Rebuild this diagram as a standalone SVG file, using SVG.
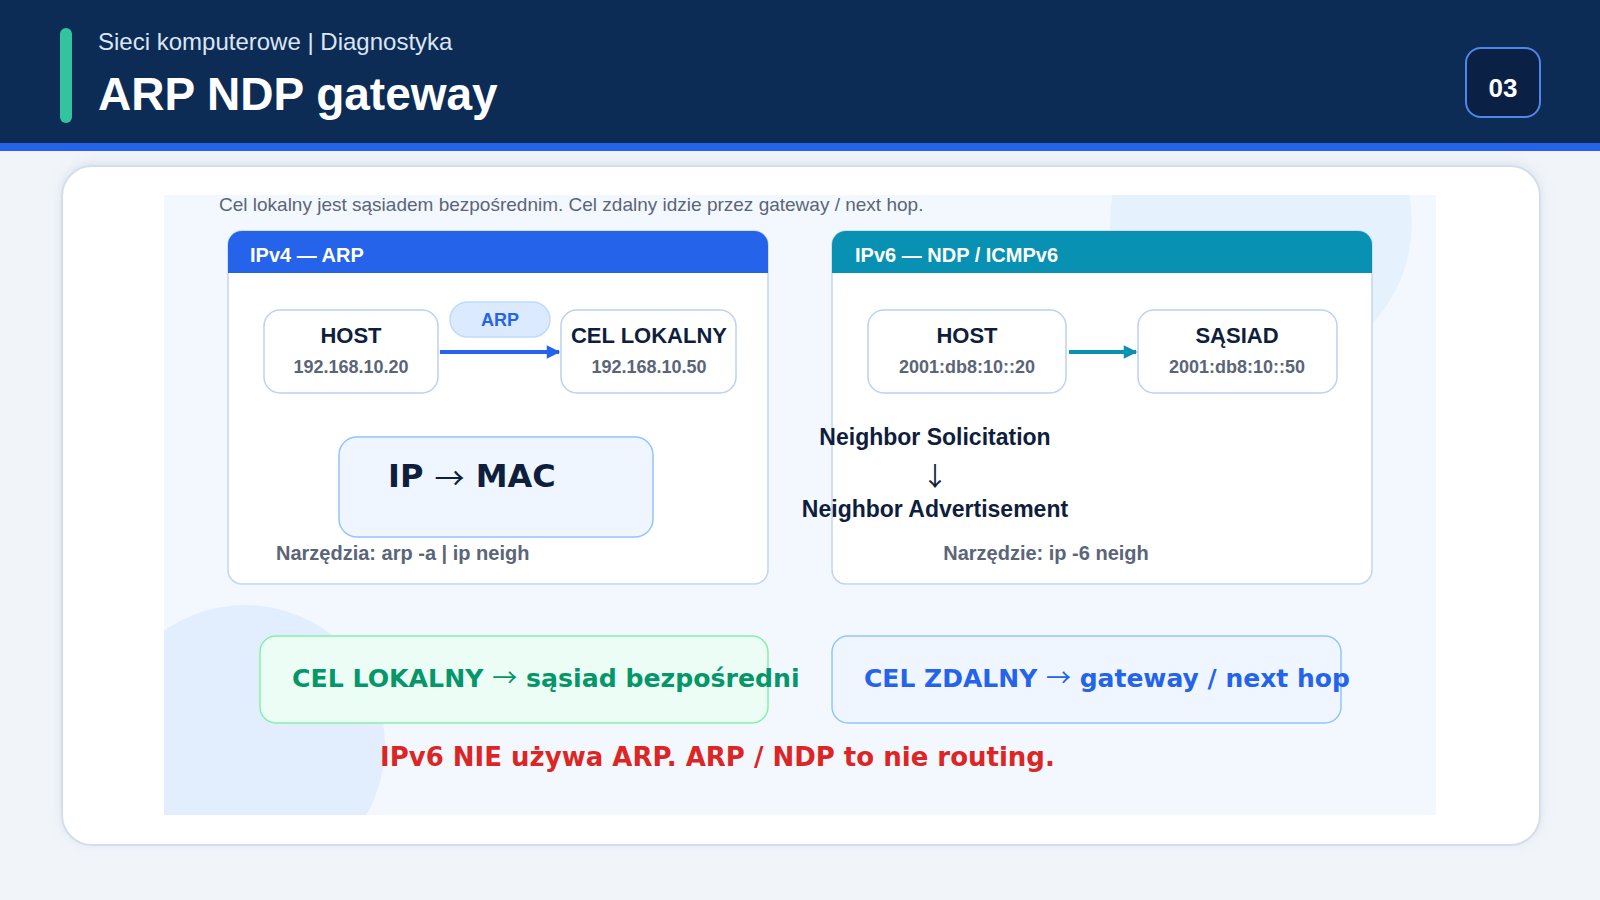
<svg xmlns="http://www.w3.org/2000/svg" width="1600" height="900" viewBox="0 0 1600 900">
  <defs>
    <style>
      .sans { font-family: "Liberation Sans", Arial, sans-serif; }
      .wide { font-family: "DejaVu Sans", Verdana, sans-serif; font-weight: bold; }
      .arr { font-family: "Noto Sans CJK SC", "Noto Sans CJK JP", sans-serif; font-weight: normal; }
      .node { fill: #ffffff; stroke: #bcd2ef; stroke-width: 1.5; }
      .panel { fill: #ffffff; stroke: #c3d5ee; stroke-width: 1.5; }
      .ntitle { font-family: "Liberation Sans", Arial, sans-serif; font-weight: bold; font-size: 22px; fill: #0f1e3c; text-anchor: middle; }
      .nsub { font-family: "Liberation Sans", Arial, sans-serif; font-weight: bold; font-size: 18px; fill: #5b6578; text-anchor: middle; }
      .phead { font-family: "Liberation Sans", Arial, sans-serif; font-weight: bold; font-size: 20px; fill: #ffffff; }
      .tool { font-family: "Liberation Sans", Arial, sans-serif; font-weight: bold; font-size: 20px; fill: #5b6578; }
      .nd { font-family: "Liberation Sans", Arial, sans-serif; font-weight: bold; font-size: 23px; fill: #0f1e3c; text-anchor: middle; }
    </style>
    <marker id="arrBlue" viewBox="0 0 10 10" refX="9" refY="5" markerWidth="4" markerHeight="3.4" markerUnits="strokeWidth" orient="auto">
      <path d="M0,0 L10,5 L0,10 z" fill="#2563eb"/>
    </marker>
    <marker id="arrTeal" viewBox="0 0 10 10" refX="9" refY="5" markerWidth="4" markerHeight="3.4" markerUnits="strokeWidth" orient="auto">
      <path d="M0,0 L10,5 L0,10 z" fill="#0891b2"/>
    </marker>
    <clipPath id="innerClip">
      <rect x="164" y="195" width="1272" height="620"/>
    </clipPath>
    <filter id="shadow" x="-5%" y="-5%" width="110%" height="115%">
      <feDropShadow dx="0" dy="-2" stdDeviation="6" flood-color="#9aa9bd" flood-opacity="0.25"/>
    </filter>
  </defs>

  <!-- background -->
  <rect x="0" y="0" width="1600" height="900" fill="#f1f5fa"/>

  <!-- header -->
  <g id="header">
    <rect x="0" y="0" width="1600" height="143" fill="#0c2c56"/>
    <rect x="0" y="143" width="1600" height="8" fill="#2563eb"/>
    <rect x="60" y="28" width="12" height="95" rx="6" fill="#34c3a0"/>
    <text x="98" y="50" class="sans" font-size="24" fill="#dbe5f3">Sieci komputerowe | Diagnostyka</text>
    <text x="98" y="110" class="sans" font-size="46" font-weight="bold" fill="#ffffff">ARP NDP gateway</text>
  </g>

  <g id="page-number">
    <rect x="1466" y="48" width="74" height="69" rx="15" fill="#0a2044" stroke="#4f86e8" stroke-width="2"/>
    <text x="1503" y="97" class="sans" font-size="26" font-weight="bold" fill="#ffffff" text-anchor="middle">03</text>
  </g>

  <!-- card -->
  <g id="card">
    <rect x="62" y="166" width="1478" height="679" rx="30" fill="#ffffff" stroke="#d3deec" stroke-width="2" filter="url(#shadow)"/>
    <rect x="164" y="195" width="1272" height="620" fill="#f3f8fe"/>
    <g clip-path="url(#innerClip)">
      <circle cx="1261" cy="222" r="151" fill="#e5f2fd"/>
      <circle cx="245" cy="745" r="140" fill="#e2edfd"/>
    </g>
    <text x="219" y="211" class="sans" font-size="19" fill="#5b6578">Cel lokalny jest sąsiadem bezpośrednim. Cel zdalny idzie przez gateway / next hop.</text>
  </g>

  <!-- IPv4 panel -->
  <g id="panel-ipv4">
    <rect x="228" y="231" width="540" height="353" rx="14" class="panel"/>
    <path d="M228,273 L228,245 A14,14 0 0 1 242,231 L754,231 A14,14 0 0 1 768,245 L768,273 Z" fill="#2563eb"/>
    <text x="250" y="262" class="phead">IPv4 — ARP</text>
  </g>

  <g id="node-host4">
    <rect x="264" y="310" width="174" height="83" rx="16" class="node"/>
    <text x="351" y="343" class="ntitle">HOST</text>
    <text x="351" y="373" class="nsub">192.168.10.20</text>
  </g>

  <g id="label-arp">
    <rect x="450" y="302" width="100" height="35" rx="17.5" fill="#dbeafe" stroke="#bfdbfe" stroke-width="1.5"/>
    <text x="500" y="326" class="sans" font-size="18" font-weight="bold" fill="#2563eb" text-anchor="middle">ARP</text>
  </g>

  <g id="node-cel-lokalny">
    <rect x="561" y="310" width="175" height="83" rx="16" class="node"/>
    <text x="649" y="343" class="ntitle">CEL LOKALNY</text>
    <text x="649" y="373" class="nsub">192.168.10.50</text>
  </g>

  <g id="node-ip-mac">
    <rect x="339" y="437" width="314" height="100" rx="18" fill="#eff6ff" stroke="#93c5fd" stroke-width="1.5"/>
    <text x="388" y="487" class="wide" font-size="32" fill="#0f1e3c">IP <tspan class="arr" font-size="30" dy="2">→</tspan><tspan dy="-2"> MAC</tspan></text>
  </g>

  <g id="tools-ipv4">
    <text x="276" y="560" class="tool">Narzędzia: arp -a | ip neigh</text>
  </g>

  <!-- IPv6 panel -->
  <g id="panel-ipv6">
    <rect x="832" y="231" width="540" height="353" rx="14" class="panel"/>
    <path d="M832,273 L832,245 A14,14 0 0 1 846,231 L1358,231 A14,14 0 0 1 1372,245 L1372,273 Z" fill="#0891b2"/>
    <text x="855" y="262" class="phead">IPv6 — NDP / ICMPv6</text>
  </g>

  <g id="node-host6">
    <rect x="868" y="310" width="198" height="83" rx="16" class="node"/>
    <text x="967" y="343" class="ntitle">HOST</text>
    <text x="967" y="373" class="nsub">2001:db8:10::20</text>
  </g>

  <g id="node-sasiad">
    <rect x="1138" y="310" width="199" height="83" rx="16" class="node"/>
    <text x="1237" y="343" class="ntitle">SĄSIAD</text>
    <text x="1237" y="373" class="nsub">2001:db8:10::50</text>
  </g>

  <g id="ndp-sequence">
    <text x="935" y="445" class="nd">Neighbor Solicitation</text>
    <text x="935" y="486" style="font-family: 'Noto Sans CJK SC', 'Noto Sans CJK JP', sans-serif; font-size: 26px; font-weight: normal; fill: #0f1e3c; text-anchor: middle;">↓</text>
    <text x="935" y="517" class="nd">Neighbor Advertisement</text>
  </g>

  <g id="tools-ipv6">
    <text x="1046" y="560" class="tool" text-anchor="middle">Narzędzie: ip -6 neigh</text>
  </g>

  <!-- connectors -->
  <g id="connectors" fill="none" stroke-width="4">
    <line x1="440" y1="352" x2="559" y2="352" stroke="#2563eb" marker-end="url(#arrBlue)"/>
    <line x1="1069" y1="352" x2="1136" y2="352" stroke="#0891b2" marker-end="url(#arrTeal)"/>
  </g>

  <!-- bottom summary -->
  <g id="box-local">
    <rect x="260" y="636" width="508" height="87" rx="16" fill="#ecfdf5" stroke="#86efac" stroke-width="1.5"/>
    <text x="292" y="687" class="wide" font-size="25.2" fill="#059669">CEL LOKALNY <tspan class="arr" font-size="25">→</tspan> sąsiad bezpośredni</text>
  </g>

  <g id="box-remote">
    <rect x="832" y="636" width="509" height="87" rx="16" fill="#eff6ff" stroke="#93c5fd" stroke-width="1.5"/>
    <text x="864" y="687" class="wide" font-size="25" fill="#2563eb">CEL ZDALNY <tspan class="arr" font-size="25">→</tspan> gateway / next hop</text>
  </g>

  <g id="note">
    <text x="380" y="766" class="wide" font-size="26" fill="#dc2626">IPv6 NIE używa ARP. ARP / NDP to nie routing.</text>
  </g>
</svg>
